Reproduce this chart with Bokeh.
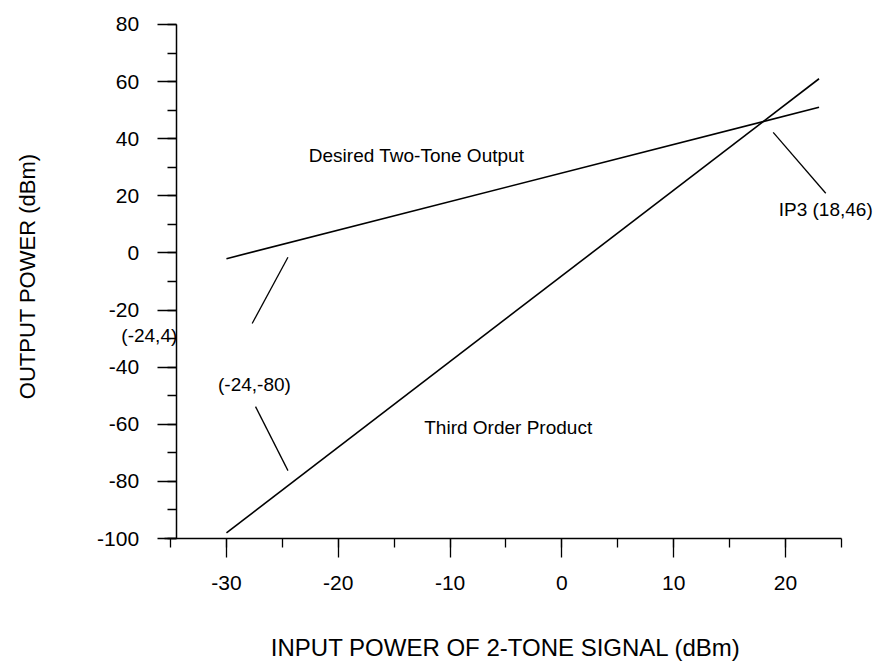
import math
from bokeh.plotting import figure
from bokeh.models import Label, SingleIntervalTicker, Range1d
from bokeh.embed import file_html
from bokeh.resources import INLINE

# ---- data ----
desired_x = [-30, 23]
desired_y = [-2, 51]
third_x = [-30, 23]
third_y = [-98, 61]

x_tick_values = [-30, -20, -10, 0, 10, 20]
x_tick_labels = ["-30", "-20", "-10", "0", "10", "20"]
y_tick_values = [-100, -80, -60, -40, -20, 0, 20, 40, 60, 80]
y_tick_labels = ["-100", "-80", "-60", "-40", "-20", "0", "20", "40", "60", "80"]

x_title = "INPUT POWER OF 2-TONE SIGNAL (dBm)"
y_title = "OUTPUT POWER (dBm)"

# annotation texts (text, x, y, align)
labels = [
    ("Desired Two-Tone Output", -13.0, 34.1, "center"),
    ("Third Order Product", -4.8, -61.1, "center"),
    ("(-24,4)", -36.9, -28.9, "center"),
    ("(-24,-80)", -27.5, -46.0, "center"),
    ("IP3 (18,46)", 27.8, 15.2, "right"),
]
# leader lines (x0, y0, x1, y1)
leaders = [
    (-24.5, -1.5, -27.7, -24.7),
    (-27.4, -53.8, -24.5, -76.2),
    (18.9, 42.2, 23.6, 20.9),
]

FONT = "Liberation Sans"

# the frame covers the whole page; axes sit at fixed locations inside it
p = figure(width=875, height=664,
           x_range=Range1d(-50.21, 28.05), y_range=Range1d(-144.1, 88.4),
           output_backend="svg", toolbar_location=None,
           min_border_left=0, min_border_right=0,
           min_border_top=0, min_border_bottom=0)

p.outline_line_color = None
p.background_fill_color = "white"
p.border_fill_color = "white"
p.xgrid.grid_line_color = None
p.ygrid.grid_line_color = None

# lines
p.line(desired_x, desired_y, line_color="black", line_width=1.6)
p.line(third_x, third_y, line_color="black", line_width=1.6)

for x0, y0, x1, y1 in leaders:
    p.segment(x0=[x0], y0=[y0], x1=[x1], y1=[y1], line_color="black", line_width=1.3)

for txt, x, y, al in labels:
    p.add_layout(Label(x=x, y=y, text=txt, text_font=FONT, text_font_size="19px",
                       text_align=al, text_baseline="middle", text_color="black"))

# axis titles
p.add_layout(Label(x=-5.0, y=-138.3, text=x_title, text_font=FONT, text_font_size="24px",
                   text_align="center", text_baseline="middle", text_color="black"))
p.add_layout(Label(x=-47.8, y=-8.2, text=y_title, text_font=FONT, text_font_size="22px",
                   text_align="center", text_baseline="middle", text_color="black",
                   angle=math.pi / 2))

# axes
xa = p.xaxis[0]
xa.ticker = SingleIntervalTicker(interval=10, num_minor_ticks=2)
xa.major_label_overrides = dict(zip(x_tick_values, x_tick_labels))
xa.bounds = (-35.5, 25)
xa.fixed_location = -100

ya = p.yaxis[0]
ya.ticker = SingleIntervalTicker(interval=20, num_minor_ticks=2)
ya.major_label_overrides = dict(zip(y_tick_values, y_tick_labels))
ya.bounds = (-100, 80)
ya.fixed_location = -34.5

for ax in (xa, ya):
    ax.axis_line_color = "black"
    ax.axis_line_width = 1.5
    ax.major_tick_line_color = "black"
    ax.minor_tick_line_color = "black"
    ax.major_tick_line_width = 1.3
    ax.minor_tick_line_width = 1.3
    ax.major_tick_in = 0
    ax.minor_tick_in = 0
    ax.major_tick_out = 19
    ax.minor_tick_out = 9
    ax.major_label_text_font = FONT
    ax.major_label_text_font_size = "21px"
    ax.major_label_text_color = "black"
    ax.major_label_standoff = 18

open("out.html", "w").write(file_html(p, INLINE))
